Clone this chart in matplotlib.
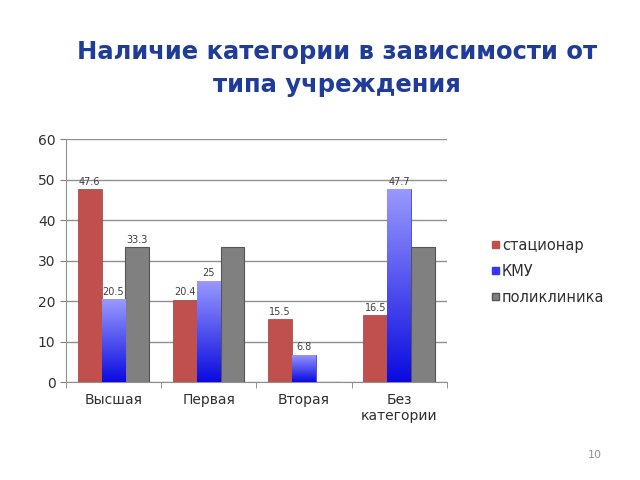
import matplotlib
matplotlib.use("Agg")
import matplotlib.pyplot as plt
import numpy as np
from matplotlib.patches import Patch
from matplotlib.colors import LinearSegmentedColormap

categories = ["Высшая", "Первая", "Вторая", "Без\nкатегории"]
series_names = ["стационар", "КМУ", "поликлиника"]
stacionar = [47.6, 20.4, 15.5, 16.5]
kmu = [20.5, 25, 6.8, 47.7]
poliklinika = [33.3, 33.3, 0, 33.3]
label_stacionar = ["47.6", "20.4", "15.5", "16.5"]
label_kmu = ["20.5", "25", "6.8", "47.7"]
label_polik = ["33.3", "", "", ""]

fig = plt.figure(figsize=(6.4, 4.8), dpi=100)
fig.patch.set_facecolor("white")
ax = fig.add_axes([0.103, 0.204, 0.595, 0.506])

x = np.arange(len(categories)) + 0.5
w = 0.25
red = "#C0504D"
gray = "#808080"

b1 = ax.bar(x - w, stacionar, w, color=red, edgecolor="#9b3d3a", linewidth=0.5, zorder=3)
b2 = ax.bar(x, kmu, w, color="#4d4dff", edgecolor="#3030c0", linewidth=0.5, zorder=3)
b3 = ax.bar(x + w, poliklinika, w, color=gray, edgecolor="#555555", linewidth=0.8, zorder=3)

# gradient fill for the blue bars
grad = np.linspace(0, 1, 256).reshape(-1, 1)
cmap = LinearSegmentedColormap.from_list("bl", ["#0a0ae0", "#9a9aff"])
for bar in b2:
    bx, by = bar.get_x(), bar.get_y()
    bw, bh = bar.get_width(), bar.get_height()
    im = ax.imshow(grad, extent=[bx, bx + bw, by, by + bh], origin="lower",
                   cmap=cmap, aspect="auto", zorder=3.5)
    im.set_clip_path(bar)

for bars, labs in ((b1, label_stacionar), (b2, label_kmu), (b3, label_polik)):
    for bar, lab in zip(bars, labs):
        if lab:
            ax.text(bar.get_x() + bar.get_width() / 2, bar.get_height() + 0.6, lab,
                    ha="center", va="bottom", fontsize=7, color="#404040", zorder=5)

ax.set_xlim(0, 4)
ax.set_ylim(0, 60)
ax.set_yticks(range(0, 61, 10))
ax.set_xticks(x)
ax.set_xticklabels(categories, fontsize=10, color="#303030")
ax.set_xticks(np.arange(0, 5), minor=True)
ax.tick_params(axis="x", which="major", length=0, pad=8)
ax.tick_params(axis="x", which="minor", length=4, color="#808080")
ax.tick_params(axis="y", labelsize=10, labelcolor="#303030", length=4, color="#808080")
ax.yaxis.grid(True, color="#909090", linewidth=1, zorder=0)
ax.set_axisbelow(True)
for s in ("top", "right"):
    ax.spines[s].set_visible(False)
ax.spines["left"].set_color("#909090")
ax.spines["bottom"].set_color("#909090")

handles = [Patch(facecolor=red, edgecolor=red), Patch(facecolor="#3535ff", edgecolor="#3535ff"),
           Patch(facecolor=gray, edgecolor="#555555")]
fig.legend(handles, series_names, loc="upper left", bbox_to_anchor=(0.749, 0.532),
           frameon=False, fontsize=10.5, handlelength=0.45, handleheight=0.45,
           handletextpad=0.2, labelspacing=0.75, labelcolor="#303030")

fig.text(0.527, 0.857, "Наличие категории в зависимости от\nтипа учреждения",
         ha="center", va="center", fontsize=17.5, fontweight="bold", color="#1F3C99",
         linespacing=1.5)
fig.text(0.93, 0.052, "10", ha="center", va="center", fontsize=8, color="#909090")

fig.savefig("out.png", dpi=100)
